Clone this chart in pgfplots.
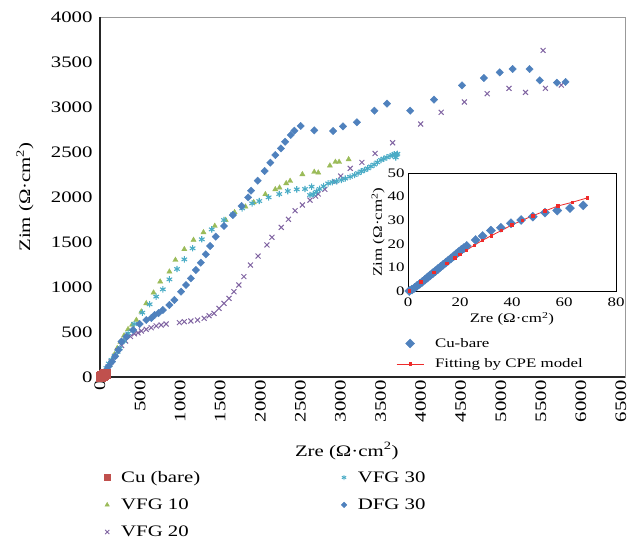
\documentclass[border=0pt]{standalone}
\usepackage{fontspec}
\setmainfont{Liberation Serif}[FakeStretch=1.3]
\usepackage{pgfplots}
\pgfplotsset{compat=1.18}
\pgfplotsset{mylegimg/.style={legend image code/.code={\draw[mark repeat=2,mark phase=2,##1] plot coordinates {(0pt,0pt)(13.5pt,0pt)(27pt,0pt)};}}}
\definecolor{cured}{HTML}{C0504D}
\definecolor{vgreen}{HTML}{9BBB59}
\definecolor{vpurple}{HTML}{8064A2}
\definecolor{vcyan}{HTML}{4BACC6}
\definecolor{dblue}{HTML}{4F81BD}
\definecolor{fitred}{HTML}{EE2B2B}
\newcommand{\unit}{(Ω·cm\textsuperscript{2})}
\begin{document}
\begin{tikzpicture}
\begin{axis}[name=main, scale only axis, width=525pt, height=360pt,
  xmin=0, xmax=6550, ymin=0, ymax=4000,
  xtick={0,500,...,6500}, ytick={0,500,...,4000},
  major tick length=0pt,
  /pgf/number format/assume math mode=true,
  /pgf/number format/1000 sep={},
  tick label style={font=\fontsize{16}{19}\selectfont},
  x tick label style={rotate=90, anchor=east},
  y tick label style={xshift=-4pt},
  xlabel={Zre \unit}, ylabel={Zim \unit},
  label style={font=\fontsize{16}{19}\selectfont},
  xlabel style={at={(axis description cs:0.47,0)}, anchor=north, yshift=-62pt},
  ylabel style={at={(axis description cs:0,0.5)}, anchor=south, yshift=63pt},
  axis line style={draw=gray!80, line width=0.6pt},
  clip=false,
  legend columns=2,
  legend cell align=left,
  legend style={at={(axis description cs:0,0)}, anchor=north west, xshift=1pt, yshift=-90pt,
    draw=none, fill=none, font=\fontsize{16}{19}\selectfont, row sep=11pt},
]
\draw[line width=1.6pt, black!85] (rel axis cs:0,1) -- (rel axis cs:0,0) -- (rel axis cs:1,0);

% legend entries
\addlegendimage{only marks, mark=square*, mark size=3pt, cured}
\addlegendentry{\hspace*{9pt}\makebox[218pt][l]{Cu (bare)}}
\addlegendimage{only marks, mark=asterisk, mark size=2.5pt, vcyan, line width=0.9pt}
\addlegendentry{\hspace*{9pt}VFG 30}
\addlegendimage{only marks, mark=triangle*, mark size=2.5pt, vgreen}
\addlegendentry{\hspace*{9pt}\makebox[218pt][l]{VFG 10}}
\addlegendimage{only marks, mark=square*, mark size=2pt, dblue, mark options={rotate=45}}
\addlegendentry{\hspace*{9pt}DFG 30}
\addlegendimage{only marks, mark=x, mark size=3pt, vpurple, line width=0.8pt}
\addlegendentry{\hspace*{9pt}VFG 20}

% VFG 10
\addplot[forget plot, only marks, mark=triangle*, mark size=3pt, vgreen] coordinates {
(50,10)(70,40)(95,80)(120,130)(150,190)(180,250)(215,320)(255,390)(300,460)(350,530)
(400,580)(454,633)(516,726)(577,818)(668,937)(751,1059)(866,1170)(941,1300)(1052,1419)
(1167,1522)(1291,1607)(1432,1678)(1568,1744)(1679,1830)(1815,1892)(1918,1941)(2063,2030)
(2187,2085)(2240,2103)(2323,2152)(2372,2178)(2525,2252)(2673,2278)(2723,2270)(2868,2348)
(2937,2389)(2983,2389)(3102,2418)};

% VFG 20
\addplot[forget plot, only marks, mark=x, mark size=3.5pt, vpurple, line width=1pt] coordinates {
(40,20)(70,60)(100,110)(140,170)(180,230)(220,290)(270,350)(320,400)(380,450)(430,480)
(474,490)(516,511)(577,530)(639,548)(701,567)(763,578)(825,589)(990,604)(1052,615)(1134,622)
(1217,633)(1300,652)(1361,681)(1423,707)(1485,763)(1547,818)(1609,874)(1671,948)(1733,1022)
(1795,1115)(1877,1244)(1972,1344)(2083,1467)(2145,1552)(2261,1663)(2351,1752)(2434,1848)
(2525,1911)(2620,1966)(2690,2010)(2723,2033)(2805,2085)(2929,2170)(3003,2233)(3123,2318)
(3267,2385)(3432,2484)(3651,2603)(4001,2811)(4257,2941)(4546,3055)(4831,3148)(5103,3207)
(5309,3162)(5528,3629)(5557,3207)(5755,3244)};

% VFG 30
\addplot[forget plot, only marks, mark=asterisk, mark size=3.2pt, vcyan, line width=1.1pt] coordinates {
(40,20)(60,60)(80,100)(110,150)(144,189)(186,233)(220,280)(248,319)(300,400)(351,485)
(425,589)(528,715)(619,808)(701,893)(784,974)(866,1085)(961,1200)(1052,1307)(1155,1430)
(1270,1530)(1394,1640)(1547,1744)(1658,1807)(1774,1874)(1898,1929)(1987,1955)(2104,1996)
(2236,2033)(2343,2066)(2455,2085)(2558,2089)(2640,2115)(2620,2022)(2661,2030)(2700,2060)
(2740,2090)(2790,2120)(2846,2151)(2900,2165)(2950,2175)(3011,2189)(3060,2205)(3120,2225)
(3176,2244)(3220,2265)(3260,2285)(3300,2300)(3341,2318)(3380,2340)(3420,2360)(3460,2385)
(3506,2411)(3540,2425)(3580,2440)(3620,2455)(3650,2465)(3671,2475)(3700,2470)(3690,2440)(3710,2480)};

% DFG 30
\addplot[forget plot, only marks, mark=square*, mark size=2.6pt, dblue, mark options={rotate=45}] coordinates {
(20,10)(50,40)(80,80)(110,120)(150,170)(190,230)(230,300)(268,393)(330,448)(413,522)
(495,589)(577,633)(640,655)(681,689)(730,710)(784,744)(866,800)(928,856)(1011,948)(1073,1022)
(1134,1096)(1196,1189)(1258,1270)(1320,1363)(1374,1456)(1444,1559)(1547,1678)(1658,1800)
(1766,1900)(1848,1996)(1885,2070)(1968,2181)(2054,2289)(2125,2381)(2187,2466)(2257,2540)
(2310,2614)(2380,2689)(2426,2737)(2504,2789)(2673,2741)(2908,2733)(3032,2785)(3205,2830)
(3424,2959)(3581,3037)(3870,2959)(4167,3081)(4517,3240)(4790,3322)(4987,3385)(5148,3422)
(5359,3422)(5487,3296)(5701,3270)(5808,3278)};

% Cu (bare)
\addplot[forget plot, only marks, mark=square*, mark size=4.5pt, cured] coordinates {
(5,2)(12,6)(22,12)(32,18)(45,25)(58,32)(68,37)};
\end{axis}

\begin{axis}[name=inset, at={(main.south west)}, anchor=south west, xshift=308pt, yshift=86pt,
  scale only axis, width=208pt, height=118pt,
  xmin=0, xmax=80, ymin=0, ymax=50,
  xtick={0,20,...,80}, ytick={0,10,...,50},
  major tick length=0pt,
  /pgf/number format/assume math mode=true,
  tick label style={font=\fontsize{13}{15}\selectfont},
  x tick label style={yshift=-3pt},
  label style={font=\fontsize{13}{15}\selectfont},
  xlabel={Zre \unit}, ylabel={Zim \unit},
  xlabel style={yshift=1pt},
  ylabel style={yshift=-4pt},
  axis background/.style={fill=white},
  axis line style={black, line width=0.8pt},
  clip=false,
  legend cell align=left,
  legend style={at={(axis description cs:0,0)}, anchor=north west, xshift=-15pt, yshift=-43pt,
    draw=none, fill=none, font=\fontsize{13}{15}\selectfont, row sep=6pt},
]
\addplot[only marks, mark=square*, mark size=3.2pt, dblue, mark options={rotate=45}, mylegimg] coordinates {
(0.5,0)(1.5,0.6)(2.5,1.3)(3.5,2.2)(4.5,3)(5.5,3.9)(6.5,4.8)(7.5,5.7)(8.5,6.6)(9.5,7.5)
(10.5,8.4)(11.5,9.3)(12.5,10.2)(13.5,11.1)(14.5,12)(15.5,12.9)(16.5,13.8)(17.5,14.7)
(18.5,15.6)(19.5,16.5)(20.5,17.4)(21.5,18.2)(22.6,19.1)(26,21.6)(28.7,23.3)(31.9,25.6)
(35.7,26.8)(39.6,28.7)(43.5,30.1)(48,31.5)(52.7,33.2)(57.4,34.1)(62.3,35.1)(67.4,36.3)};
\addlegendentry{\hspace*{9pt}Cu-bare}
\addplot[fitred, line width=0.8pt, mark=square*, mark size=1.2pt, mylegimg] coordinates {
(0.5,0)(5,3.8)(10,7.8)(15,11.6)(18,14)(20,15.5)(22.5,17.3)(25.5,19.4)(28.5,21.4)(32,23.4)
(36,25.7)(40,28)(44,30)(48,31.9)(52.7,33.9)(57.6,36)(63.2,37.6)(69.1,39.5)};
\addlegendentry{\hspace*{9pt}Fitting by CPE model}
\end{axis}
\pgfresetboundingbox
\path ([shift={(-100pt,-166pt)}]main.south west) rectangle ([shift={(7pt,17pt)}]main.north east);
\end{tikzpicture}
\end{document}
